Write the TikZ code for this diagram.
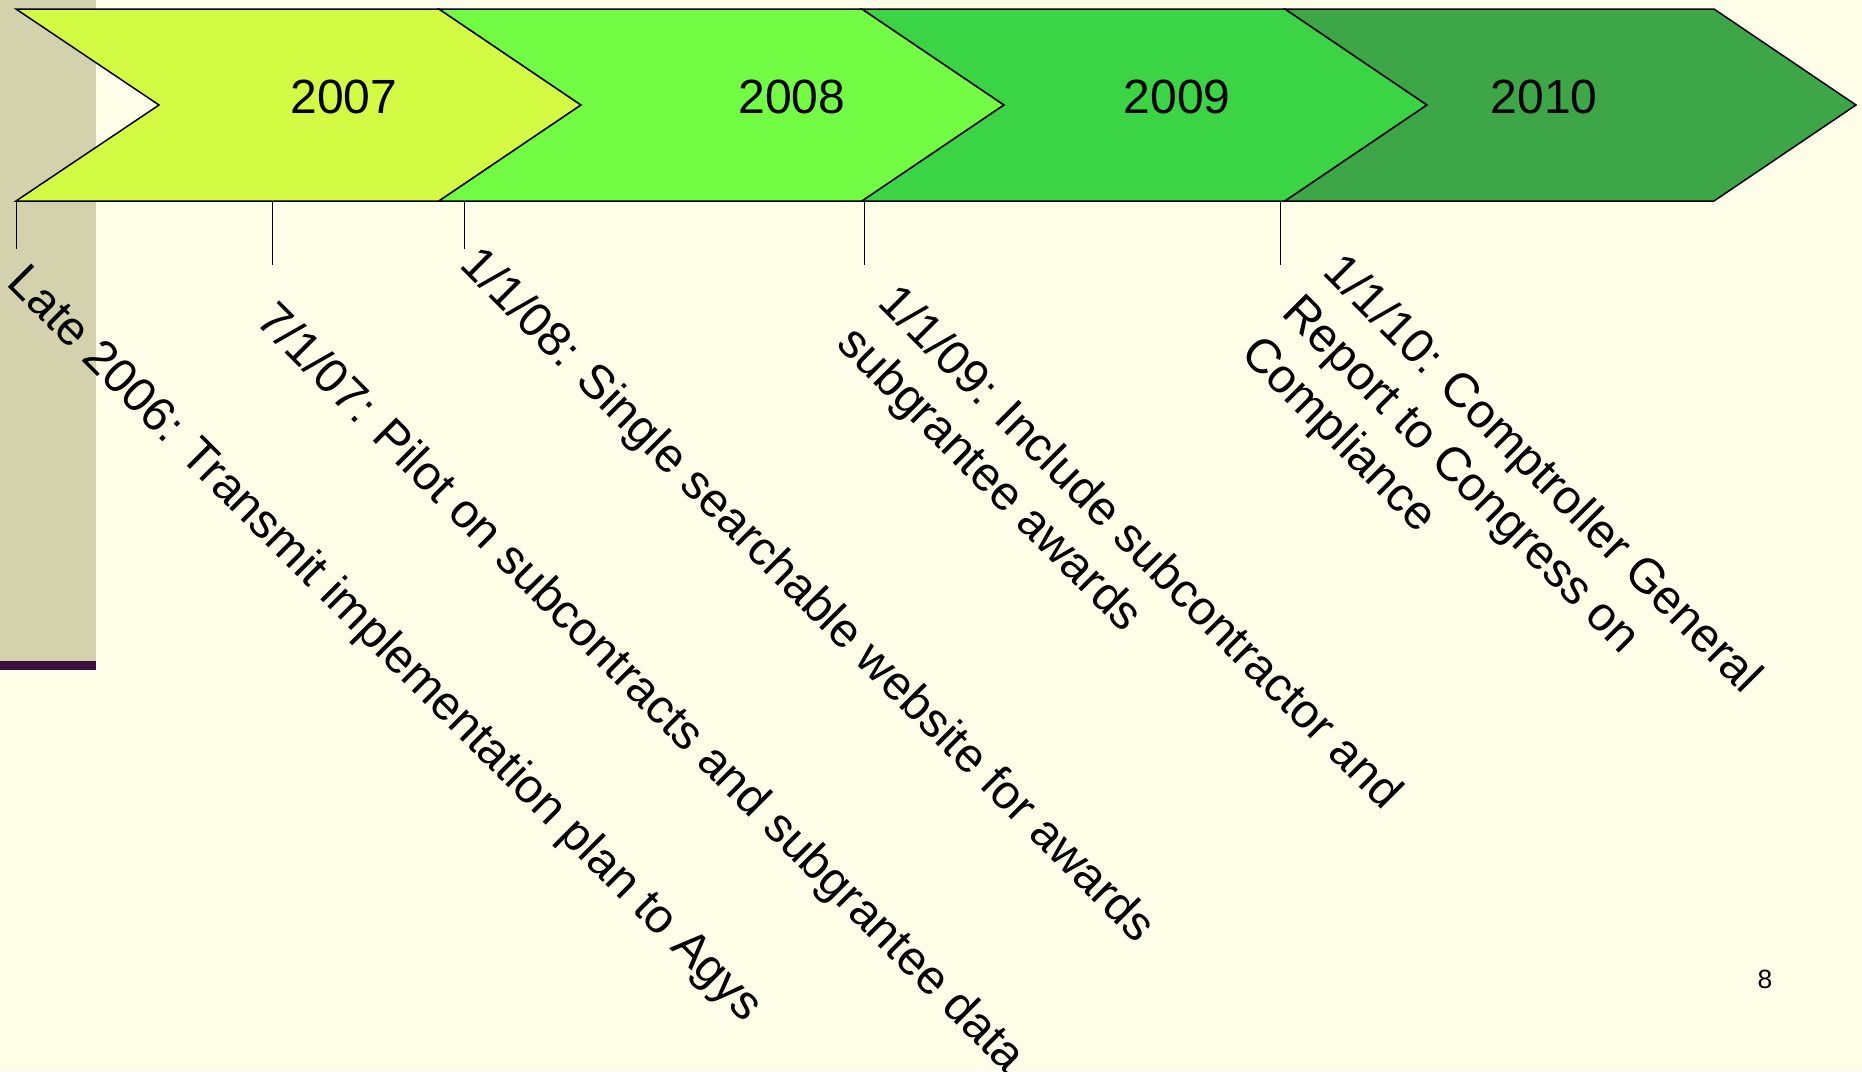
\documentclass[tikz,border=0pt]{standalone}
\usepackage{fontspec}
\setmainfont{Liberation Sans}
\definecolor{bgcream}{RGB}{254,254,232}
\definecolor{bandbeige}{RGB}{211,210,172}
\definecolor{bandpurple}{RGB}{63,14,64}
\definecolor{c2007}{RGB}{212,251,68}
\definecolor{c2008}{RGB}{114,252,67}
\definecolor{c2009}{RGB}{58,212,69}
\definecolor{c2010}{RGB}{61,166,70}
\tikzset{
  chev/.style={draw=black, line width=0.75pt, line join=miter},
  tickline/.style={draw=black, line width=0.5pt},
  yearlbl/.style={inner sep=0pt, anchor=base, font=\fontsize{24}{28.8}\selectfont},
  evlbl/.style={inner sep=0pt, anchor=base west, rotate=-45, font=\fontsize{24}{28.8}\selectfont},
  pagelbl/.style={inner sep=0pt, anchor=base, font=\fontsize{13.2}{15}\selectfont}
}
\begin{document}
\begin{tikzpicture}[x=0.5pt,y=-0.5pt]
\useasboundingbox (0,0) rectangle (1862,1071);
\fill[bgcream] (0,0) rectangle (1862,1071);
\fill[bandbeige] (0,0) rectangle (96,661);
\fill[bandpurple] (0,661) rectangle (96,670);
% chevrons
\filldraw[chev, fill=c2007] (16,9) -- (439,9) -- (581,105) -- (439,201) -- (16,201) -- (159,105) -- cycle;
\filldraw[chev, fill=c2008] (439,9) -- (862,9) -- (1004,105) -- (862,201) -- (439,201) -- (581,105) -- cycle;
\filldraw[chev, fill=c2009] (862,9) -- (1285,9) -- (1427,105) -- (1285,201) -- (862,201) -- (1004,105) -- cycle;
\filldraw[chev, fill=c2010] (1285,9) -- (1714,9) -- (1856,105) -- (1714,201) -- (1285,201) -- (1427,105) -- cycle;
% year labels
\node[yearlbl] (y2007) at (344,113) {2007};
\node[yearlbl] (y2008) at (792,113) {2008};
\node[yearlbl] (y2009) at (1177,113) {2009};
\node[yearlbl] (y2010) at (1544,113) {2010};
% ticks
\coordinate (t1a) at (16,201);   \coordinate (t1b) at (16,249);
\coordinate (t2a) at (272,201);  \coordinate (t2b) at (272,265);
\coordinate (t3a) at (464,201);  \coordinate (t3b) at (464,249);
\coordinate (t4a) at (864,201);  \coordinate (t4b) at (864,265);
\coordinate (t5a) at (1280,201); \coordinate (t5b) at (1280,265);
\draw[tickline] (t1a) -- (t1b);
\draw[tickline] (t2a) -- (t2b);
\draw[tickline] (t3a) -- (t3b);
\draw[tickline] (t4a) -- (t4b);
\draw[tickline] (t5a) -- (t5b);
% event labels
\node[evlbl] (e1) at (5,284) {Late 2006: Transmit implementation plan to Agys};
\node[evlbl] (e2) at (254,322) {7/1/07: Pilot on subcontracts and subgrantee data};
\node[evlbl] (e3) at (458,266) {1/1/08: Single searchable website for awards};
\node[evlbl] (e4a) at (876,304) {1/1/09: Include subcontractor and};
\node[evlbl] (e4b) at (835,345) {subgrantee awards};
\node[evlbl] (e5a) at (1321,273) {1/1/10: Comptroller General};
\node[evlbl] (e5b) at (1280,314) {Report to Congress on};
\node[evlbl] (e5c) at (1239,355) {Compliance};
% page number
\node[pagelbl] (pg) at (1765,988) {8};
\end{tikzpicture}
\end{document}
